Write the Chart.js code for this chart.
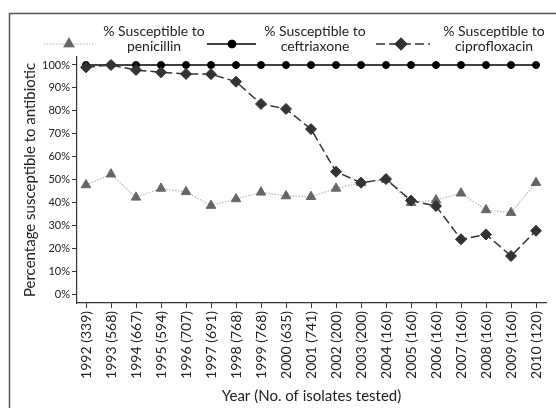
<!DOCTYPE html>
<html>
<head>
<meta charset="utf-8">
<script src="https://cdn.jsdelivr.net/npm/chart.js@4"></script>
<style>
  html, body { margin: 0; padding: 0; background: #fff; }
  #wrap { width: 556px; height: 408px; position: relative; }
</style>
</head>
<body>
<div id="wrap"><canvas id="c" width="556" height="408"></canvas></div>
<script>
const years = [1992,1993,1994,1995,1996,1997,1998,1999,2000,2001,2002,2003,2004,2005,2006,2007,2008,2009,2010];
const xLabels = ["1992 (339)","1993 (568)","1994 (667)","1995 (594)","1996 (707)","1997 (691)","1998 (768)","1999 (768)","2000 (635)","2001 (741)","2002 (200)","2003 (200)","2004 (160)","2005 (160)","2006 (160)","2007 (160)","2008 (160)","2009 (160)","2010 (120)"];
const penicillin = [47.6,52.3,42.2,46.1,44.6,38.6,41.5,44.4,42.8,42.5,46.1,48.6,50.0,39.9,41.0,44.0,36.7,35.5,48.6];
const ceftriaxone = [100,100,100,100,100,100,100,100,100,100,100,100,100,100,100,100,100,100,100];
const ciprofloxacin = [99.0,100,97.8,96.8,96.1,96.0,92.7,83.0,80.8,72.0,53.4,48.6,50.2,40.8,38.4,23.9,26.0,16.6,27.6];
const yTicks = [0,10,20,30,40,50,60,70,80,90,100];
const seriesNames = [["% Susceptible to","penicillin"],["% Susceptible to","ceftriaxone"],["% Susceptible to","ciprofloxacin"]];

const FONT = "Lato, 'Open Sans', sans-serif";
const toPts = arr => arr.map((v, i) => ({x: years[i], y: v}));

const framePlugin = {
  id: 'frame',
  beforeDraw(chart) {
    const ctx = chart.ctx;
    ctx.save();
    ctx.fillStyle = '#fff';
    ctx.fillRect(0, 0, chart.width, chart.height);
    ctx.strokeStyle = '#555';
    ctx.lineWidth = 1.5;
    ctx.beginPath();
    ctx.moveTo(9.5, chart.height + 2);
    ctx.lineTo(9.5, 13.5);
    ctx.lineTo(chart.width + 2, 13.5);
    ctx.stroke();
    ctx.restore();
  }
};

const legendPlugin = {
  id: 'customLegend',
  afterDraw(chart) {
    const ctx = chart.ctx;
    const spots = [
      {x0: 44, x1: 95, mx: 69, tx: 154},
      {x0: 207, x1: 256, mx: 232, tx: 315},
      {x0: 376, x1: 430, mx: 401, tx: 494}
    ];
    chart.data.datasets.forEach((ds, i) => {
      const s = spots[i];
      const ly = 44;
      ctx.save();
      ctx.strokeStyle = ds.borderColor;
      ctx.lineWidth = ds.borderWidth;
      ctx.setLineDash(ds.borderDash || []);
      ctx.beginPath();
      ctx.moveTo(s.x0, ly);
      ctx.lineTo(s.x1, ly);
      ctx.stroke();
      ctx.setLineDash([]);
      Chart.helpers.drawPoint(ctx, {
        pointStyle: ds.pointStyle, radius: ds.pointRadius, rotation: 0,
        borderWidth: 1
      }, s.mx, ly);
      ctx.fillStyle = ds.pointBackgroundColor;
      ctx.strokeStyle = ds.pointBorderColor;
      ctx.fill();
      ctx.stroke();
      ctx.fillStyle = '#222';
      ctx.font = "14px " + FONT;
      ctx.textAlign = 'center';
      ctx.textBaseline = 'middle';
      const lines = seriesNames[i];
      ctx.fillText(lines[0], s.tx, 31);
      ctx.fillText(lines[1], s.tx, 46);
      ctx.restore();
    });
  }
};

new Chart(document.getElementById('c'), {
  type: 'line',
  data: {
    datasets: [
      {
        label: seriesNames[0].join(' '),
        data: toPts(penicillin),
        borderColor: '#b5b5b5',
        borderWidth: 1.2,
        borderDash: [1.5, 1.5],
        pointStyle: 'triangle',
        pointRadius: 5.5,
        pointBackgroundColor: '#666',
        pointBorderColor: '#666',
        pointBorderWidth: 1,
        order: 3
      },
      {
        label: seriesNames[1].join(' '),
        data: toPts(ceftriaxone),
        borderColor: '#000',
        borderWidth: 1.5,
        pointStyle: 'circle',
        pointRadius: 3.5,
        pointBackgroundColor: '#000',
        pointBorderColor: '#000',
        pointBorderWidth: 1,
        order: 2
      },
      {
        label: seriesNames[2].join(' '),
        data: toPts(ciprofloxacin),
        borderColor: '#333',
        borderWidth: 1.5,
        borderDash: [9, 4],
        pointStyle: 'rectRot',
        pointRadius: 5.5,
        pointBackgroundColor: '#333',
        pointBorderColor: '#333',
        pointBorderWidth: 1,
        order: 1
      }
    ]
  },
  options: {
    responsive: false,
    animation: false,
    layout: { padding: { top: 57, right: 9, left: 0, bottom: 0 } },
    plugins: { legend: { display: false }, tooltip: { enabled: false } },
    scales: {
      x: {
        type: 'linear',
        min: 1991.64,
        max: 2010.4,
        afterBuildTicks(scale) { scale.ticks = years.map(v => ({value: v})); },
        afterFit(scale) { scale.height = 105; },
        grid: { display: true, drawOnChartArea: false, drawTicks: true, tickLength: 5, color: '#333', lineWidth: 1 },
        border: { display: true, color: '#333', width: 1.2 },
        ticks: {
          autoSkip: false, maxRotation: 90, minRotation: 90, padding: 3,
          color: '#222', font: { family: FONT, size: 14 },
          callback(v) { const i = years.indexOf(v); return i >= 0 ? xLabels[i] : ''; }
        },
        title: {
          display: true, text: 'Year (No. of isolates tested)',
          color: '#222', font: { family: FONT, size: 15 },
          padding: { top: 0, bottom: 3 }
        }
      },
      y: {
        type: 'linear',
        min: -3.93,
        max: 103.49,
        afterBuildTicks(scale) { scale.ticks = yTicks.map(v => ({value: v})); },
        afterFit(scale) { scale.width = 77; },
        grid: { display: true, drawOnChartArea: false, drawTicks: true, tickLength: 5, color: '#333', lineWidth: 1 },
        border: { display: true, color: '#333', width: 1.2 },
        ticks: {
          padding: 2, color: '#222', font: { family: FONT, size: 11 },
          callback(v) { return v + '%'; }
        },
        title: {
          display: true, text: 'Percentage susceptible to antibiotic',
          color: '#222', font: { family: FONT, size: 15 },
          padding: { top: 21, bottom: 0 }
        }
      }
    }
  },
  plugins: [framePlugin, legendPlugin]
});
</script>
</body>
</html>
